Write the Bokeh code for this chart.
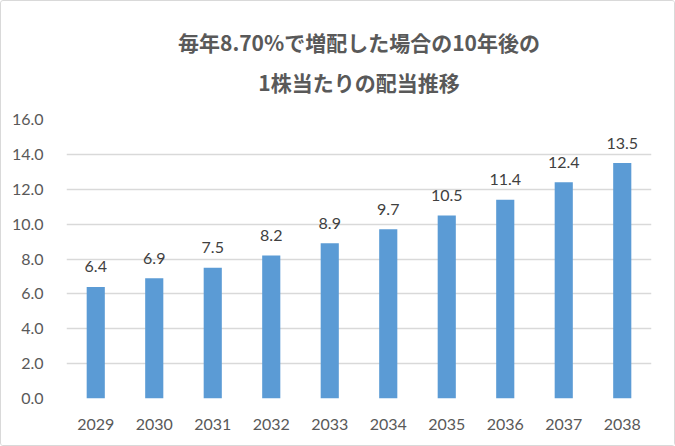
from bokeh.plotting import figure
from bokeh.models import ColumnDataSource, FactorRange, Range1d, Title, FixedTicker, NumeralTickFormatter
from bokeh.core.properties import value
from bokeh.embed import file_html
from bokeh.resources import INLINE

years = ["2029", "2030", "2031", "2032", "2033", "2034", "2035", "2036", "2037", "2038"]
dividends = [6.4, 6.9, 7.5, 8.2, 8.9, 9.7, 10.5, 11.4, 12.4, 13.5]
y_ticks = [0, 2, 4, 6, 8, 10, 12, 14, 16]
title_line1 = "毎年8.70%で増配した場合の10年後の"
title_line2 = "1株当たりの配当推移"

src = ColumnDataSource(dict(x=years, top=dividends, label=[f"{v:.1f}" for v in dividends]))

p = figure(x_range=FactorRange(*years, range_padding=0), y_range=Range1d(0, 16),
           width=675, height=446, output_backend="svg", toolbar_location=None,
           min_border_left=65, min_border_right=25, min_border_bottom=49, min_border_top=118)
p.title = None
# stacked from the frame outward: spacer, line 2, spacer, line 1, spacer
title_style = dict(align="center", text_font="Noto Sans CJK JP", text_font_size="21px",
                   text_color="#595959", text_font_style="bold", standoff=0)
p.add_layout(Title(text=" ", text_font_size="19px", standoff=0), "above")
p.add_layout(Title(text=title_line2, **title_style), "above")
p.add_layout(Title(text=" ", text_font_size="5px", standoff=0), "above")
p.add_layout(Title(text=title_line1, **title_style), "above")
p.add_layout(Title(text=" ", text_font_size="1px", standoff=0), "above")

p.vbar(x="x", top="top", width=0.31, source=src, color="#5B9BD5", line_color=None)
p.text(x="x", y="top", text="label", source=src, text_align="center", text_baseline="middle",
       y_offset=-20, text_font=value("Lato"), text_font_size="16px", text_color="#404040")

p.yaxis.ticker = FixedTicker(ticks=y_ticks)
p.yaxis.formatter = NumeralTickFormatter(format="0.0")
for ax in (p.xaxis, p.yaxis):
    ax.axis_line_color = None
    ax.major_tick_line_color = None
    ax.minor_tick_line_color = None
    ax.major_label_text_font = "Lato"
    ax.major_label_text_font_size = "16px"
    ax.major_label_text_color = "#595959"
p.yaxis.major_label_standoff = 17
p.xaxis.major_label_standoff = 14
p.xgrid.grid_line_color = None
p.ygrid.grid_line_color = "#D9D9D9"
p.ygrid.grid_line_width = 1.3
p.outline_line_color = None
p.background_fill_color = "white"
p.border_fill_color = "white"
p.styles = {"border": "1px solid #D9D9D9", "border-radius": "3px", "box-sizing": "border-box"}

open("out.html", "w").write(file_html(p, INLINE))
